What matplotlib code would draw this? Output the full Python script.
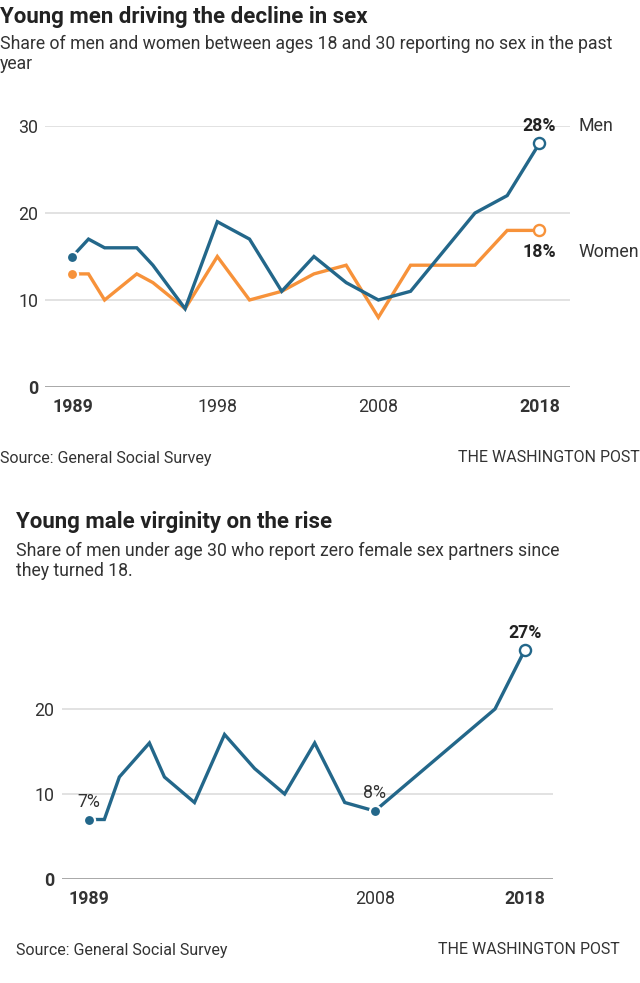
import matplotlib.pyplot as plt

plt.rcParams['font.family'] = ['Roboto', 'DejaVu Sans']

BLUE = "#23678a"
ORANGE = "#f7923a"
GRID = "#dddddd"
TXT = "#333333"

# chart 1: no sex in the past year, ages 18-30
men_years = [1989, 1990, 1991, 1993, 1994, 1996, 1998, 2000, 2002, 2004, 2006, 2008, 2010, 2014, 2016, 2018]
men_vals = [15, 17, 16, 16, 14, 9, 19, 17, 11, 15, 12, 10, 11, 20, 22, 28]
women_years = [1989, 1990, 1991, 1993, 1994, 1996, 1998, 2000, 2002, 2004, 2006, 2008, 2010, 2014, 2016, 2018]
women_vals = [13, 13, 10, 13, 12, 9, 15, 10, 11, 13, 14, 8, 14, 14, 18, 18]

# chart 2: male virginity under 30
virg_years = [1989, 1990, 1991, 1993, 1994, 1996, 1998, 2000, 2002, 2004, 2006, 2008, 2016, 2018]
virg_vals = [7, 7, 12, 16, 12, 9, 17, 13, 10, 16, 9, 8, 20, 27]

top_ticks = [0, 10, 20, 30]
top_xticks = [1989, 1998, 2008, 2018]
bot_ticks = [0, 10, 20]
bot_xticks = [1989, 2008, 2018]

fig = plt.figure(figsize=(6.4, 9.83), dpi=100)

FS = 12.8


def style_axes(ax, yticks, xticks, bold_x):
    for s in ax.spines.values():
        s.set_visible(False)
    ax.set_yticks(yticks)
    ax.set_xticks(xticks)
    ax.tick_params(length=0, labelsize=FS, colors=TXT, pad=5)
    ax.tick_params(axis='x', pad=8)
    for t in yticks:
        ax.axhline(t, color="#999999" if t == 0 else GRID, lw=1.2, zorder=0)
    for lab in ax.get_yticklabels():
        if lab.get_text() == "0":
            lab.set_fontweight("bold")
    for lab, x in zip(ax.get_xticklabels(), xticks):
        if x in bold_x:
            lab.set_fontweight("bold")


def draw_line(ax, xs, ys, color, open_end=True):
    ax.plot(xs, ys, color=color, lw=2.4, zorder=3, solid_joinstyle='miter')
    ax.plot(xs[0], ys[0], 'o', ms=8, color=color, mec="white", mew=1.6, zorder=4)
    if open_end:
        ax.plot(xs[-1], ys[-1], 'o', ms=8, mfc="white", mec=color, mew=1.7, zorder=4, clip_on=False)


# ---- top chart ----
fig.text(0.0, 1 - 17 / 983, "Young men driving the decline in sex", fontsize=16, fontweight="bold",
         color="#222222", va="center")
fig.text(0.0, 1 - 54 / 983,
         "Share of men and women between ages 18 and 30 reporting no sex in the past\nyear",
         fontsize=12.7, color=TXT, va="center", linespacing=1.1)

ax1 = fig.add_axes([45 / 640, 1 - 387 / 983, 525 / 640, 261 / 983])
ax1.set_xlim(1987.3, 2019.9)
ax1.set_ylim(0, 30)
style_axes(ax1, top_ticks, top_xticks, [1989, 2018])
draw_line(ax1, women_years, women_vals, ORANGE)
draw_line(ax1, men_years, men_vals, BLUE)
ax1.text(men_years[-1], 30, "%d%%" % men_vals[-1], ha="center", va="center", fontsize=FS,
         fontweight="bold", color="#222222", clip_on=False)
ax1.text(2020.4, 30, "Men", ha="left", va="center", fontsize=FS, color=TXT)
ax1.text(women_years[-1], 15.5, "%d%%" % women_vals[-1], ha="center", va="center", fontsize=FS,
         fontweight="bold", color="#222222")
ax1.text(2020.4, 15.5, "Women", ha="left", va="center", fontsize=FS, color=TXT)

fig.text(0.0, 1 - 458 / 983, "Source: General Social Survey", fontsize=11.5, color=TXT, va="center")
fig.text(1.0, 1 - 458 / 983, "THE WASHINGTON POST", fontsize=11.5, color=TXT, va="center", ha="right")

# ---- bottom chart ----
fig.text(16 / 640, 1 - 522 / 983, "Young male virginity on the rise", fontsize=16, fontweight="bold",
         color="#222222", va="center")
fig.text(16 / 640, 1 - 561 / 983,
         "Share of men under age 30 who report zero female sex partners since\nthey turned 18.",
         fontsize=12.7, color=TXT, va="center", linespacing=1.1)

ax2 = fig.add_axes([61.5 / 640, 1 - 879 / 983, 491.5 / 640, 255 / 983])
ax2.set_xlim(1987.15, 2019.86)
ax2.set_ylim(0, 30)
style_axes(ax2, bot_ticks, bot_xticks, [1989, 2018])
draw_line(ax2, virg_years, virg_vals, BLUE)
ax2.plot(virg_years[11], virg_vals[11], 'o', ms=8, color=BLUE, mec="white", mew=1.6, zorder=4)
ax2.text(virg_years[0], 9.1, "%d%%" % virg_vals[0], ha="center", va="center", fontsize=FS, color=TXT)
ax2.text(virg_years[11], 10.1, "%d%%" % virg_vals[11], ha="center", va="center", fontsize=FS, color=TXT)
ax2.text(virg_years[-1], 28.9, "%d%%" % virg_vals[-1], ha="center", va="center", fontsize=FS,
         fontweight="bold", color="#222222", clip_on=False)

fig.text(16 / 640, 1 - 950 / 983, "Source: General Social Survey", fontsize=11.5, color=TXT, va="center")
fig.text(620 / 640, 1 - 950 / 983, "THE WASHINGTON POST", fontsize=11.5, color=TXT, va="center", ha="right")

fig.savefig("out.png", dpi=100)
